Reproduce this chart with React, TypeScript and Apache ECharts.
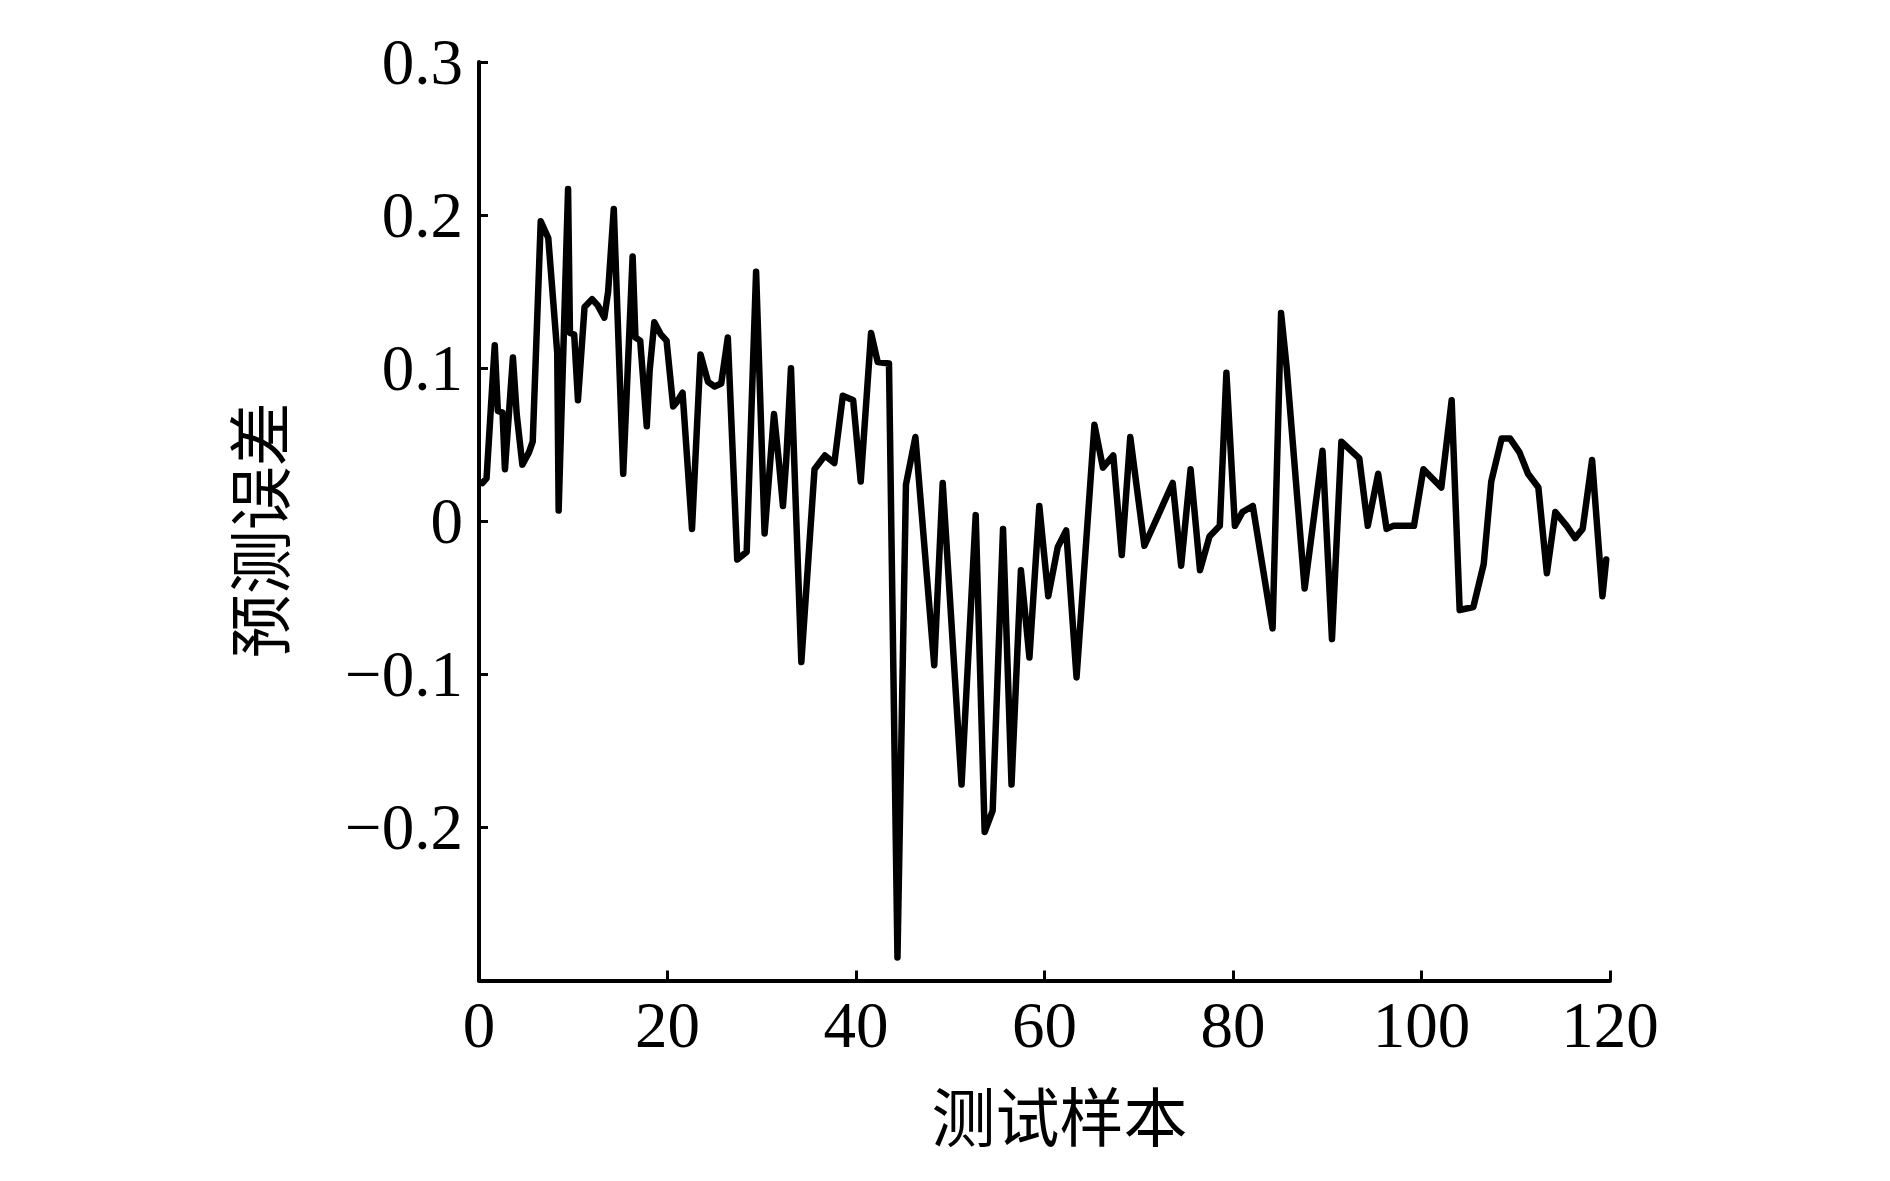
import React, { useEffect, useRef } from "react";
import * as echarts from "echarts";

// Sample positions (x) and prediction errors (y)
const sampleX = [
  0.36, 0.8, 1.67, 2.0, 2.5, 2.75, 3.6, 4.0, 4.6, 5.3, 5.7, 6.55, 7.35, 8.3, 8.45, 9.45, 9.65, 10.1, 10.5,
  11.2, 12.0, 12.6, 13.3, 13.7, 14.3, 15.3, 16.3, 16.6, 17.1, 17.8, 18.1, 18.6, 19.3, 19.9, 20.6, 21.0,
  21.6, 22.6, 23.5, 24.3, 25.0, 25.7, 26.4, 27.4, 28.4, 29.4, 30.3, 31.3, 31.8, 32.25, 32.6, 33.1, 34.2,
  35.6, 36.7, 37.7, 38.6, 39.7, 40.5, 41.6, 42.3, 43.5, 44.4, 45.3, 46.3, 48.3, 49.2, 51.2, 52.7, 53.65,
  54.5, 55.6, 56.5, 57.5, 57.8, 58.4, 59.45, 60.4, 61.4, 62.3, 63.4, 65.3, 66.2, 67.3, 68.2, 69.1, 70.6,
  72.0, 73.6, 74.5, 75.5, 76.5, 77.5, 78.6, 79.3, 80.2, 81.0, 82.1, 84.2, 85.1, 85.7, 87.6, 89.5, 90.5,
  91.5, 93.4, 94.3, 95.4, 96.3, 97.0, 99.2, 100.2, 102.1, 103.2, 104.05, 105.5, 106.6, 107.4, 108.5,
  109.4, 110.4, 111.3, 112.4, 113.3, 114.2, 115.4, 116.3, 117.1, 118.1, 119.2, 119.6,
];
const errorY = [
  0.025, 0.028, 0.115, 0.072, 0.071, 0.034, 0.107, 0.07, 0.037, 0.045, 0.052, 0.196, 0.185, 0.11, 0.007,
  0.217, 0.123, 0.122, 0.079, 0.14, 0.145, 0.141, 0.133, 0.15, 0.204, 0.031, 0.173, 0.12, 0.118, 0.062,
  0.098, 0.13, 0.122, 0.118, 0.075, 0.078, 0.084, -0.005, 0.109, 0.091, 0.088, 0.09, 0.12, -0.025, -0.02,
  0.163, -0.008, 0.07, 0.04, 0.01, 0.04, 0.1, -0.092, 0.034, 0.043, 0.038, 0.082, 0.079, 0.026, 0.123,
  0.104, 0.103, -0.285, 0.024, 0.055, -0.094, 0.025, -0.172, 0.004, -0.203, -0.189, -0.005, -0.172,
  -0.032, -0.051, -0.089, 0.01, -0.049, -0.017, -0.006, -0.102, 0.063, 0.035, 0.043, -0.022, 0.055,
  -0.016, 0.003, 0.025, -0.029, 0.034, -0.032, -0.01, -0.003, 0.097, -0.003, 0.006, 0.01, -0.07, 0.136,
  0.1, -0.044, 0.046, -0.077, 0.052, 0.041, -0.003, 0.031, -0.005, -0.003, -0.003, 0.034, 0.022, 0.079,
  -0.058, -0.056, -0.028, 0.026, 0.054, 0.054, 0.045, 0.031, 0.022, -0.034, 0.006, -0.003, -0.011, -0.005,
  0.04, -0.049, -0.025,
];

const xTicks = { min: 0, max: 120, interval: 20 };
const yTicks = { min: -0.3, max: 0.3, interval: 0.1 };
const xName = "测试样本";
const yName = "预测误差";

const NUM_FONT = "'Liberation Serif', 'Times New Roman', serif";
const CJK_FONT = "'Noto Sans CJK SC', 'Noto Sans', sans-serif";

export default function App() {
  const ref = useRef<HTMLDivElement>(null);

  useEffect(() => {
    if (!ref.current) return;
    const chart = echarts.init(ref.current, undefined, { renderer: "svg" });
    const data = sampleX.map((x, i) => [x, errorY[i]]);
    chart.setOption({
      animation: false,
      backgroundColor: "#ffffff",
      grid: { left: 479, right: 280, top: 62, bottom: 200.5, containLabel: false },
      xAxis: {
        type: "value",
        min: xTicks.min,
        max: xTicks.max,
        interval: xTicks.interval,
        name: xName,
        nameLocation: "middle",
        nameGap: 100,
        nameTextStyle: {
          fontFamily: CJK_FONT,
          fontSize: 64,
          color: "#000",
          padding: [0, 0, 0, 30],
        },
        axisLine: { show: true, onZero: false, lineStyle: { color: "#000", width: 4 } },
        axisTick: { show: true, inside: true, length: 10, lineStyle: { color: "#000", width: 3 } },
        axisLabel: {
          margin: 12,
          fontFamily: NUM_FONT,
          fontSize: 65,
          color: "#000",
          showMinLabel: true,
          showMaxLabel: true,
        },
        splitLine: { show: false },
      },
      yAxis: {
        type: "value",
        min: yTicks.min,
        max: yTicks.max,
        interval: yTicks.interval,
        name: yName,
        nameLocation: "middle",
        nameGap: 191,
        nameTextStyle: {
          fontFamily: CJK_FONT,
          fontSize: 64,
          color: "#000",
          padding: [0, 18, 0, 0],
        },
        axisLine: { show: true, lineStyle: { color: "#000", width: 4 } },
        axisTick: { show: true, inside: true, length: 9, lineStyle: { color: "#000", width: 3 } },
        axisLabel: {
          margin: 16,
          fontFamily: NUM_FONT,
          fontSize: 65,
          color: "#000",
          showMinLabel: true,
          showMaxLabel: true,
          formatter: (v: number) => {
            const r = Math.round(v * 10) / 10;
            if (r <= -0.3) return "";
            if (r === 0) return "0";
            return r < 0 ? "\u2212" + Math.abs(r).toFixed(1) : r.toFixed(1);
          },
        },
        splitLine: { show: false },
      },
      series: [
        {
          type: "line",
          data,
          showSymbol: false,
          symbol: "none",
          lineStyle: { color: "#000", width: 6.5, join: "round", cap: "round" },
          clip: false,
        },
      ],
    });
    return () => chart.dispose();
  }, []);

  return (
    <div
      ref={ref}
      style={{ position: "absolute", left: 0, top: 0, width: 1890, height: 1181, background: "#fff" }}
    />
  );
}
